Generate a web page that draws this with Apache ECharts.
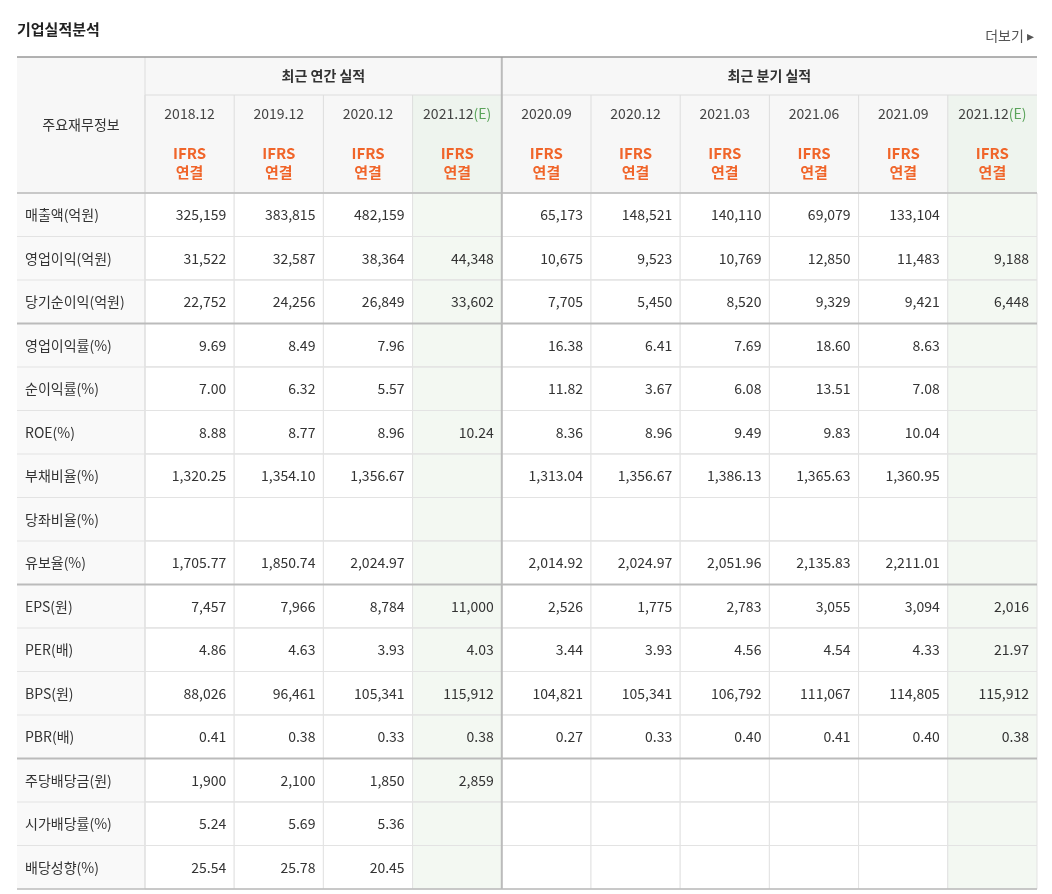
<!DOCTYPE html>
<html><head><meta charset="utf-8">
<script src="https://cdn.jsdelivr.net/npm/echarts@6/dist/echarts.min.js"></script>
<style>html,body{margin:0;background:#fff}#main{width:1052px;height:894px}</style>
</head><body><div id="main"></div>
<script>
// 열 / 행
const periods = ['2018.12','2019.12','2020.12','2021.12(E)','2020.09','2020.12','2021.03','2021.06','2021.09','2021.12(E)'];
const rowNames = ['매출액(억원)','영업이익(억원)','당기순이익(억원)','영업이익률(%)','순이익률(%)','ROE(%)','부채비율(%)','당좌비율(%)','유보율(%)','EPS(원)','PER(배)','BPS(원)','PBR(배)','주당배당금(원)','시가배당률(%)','배당성향(%)'];
const values = [
  ['325,159','383,815','482,159','','65,173','148,521','140,110','69,079','133,104',''],
  ['31,522','32,587','38,364','44,348','10,675','9,523','10,769','12,850','11,483','9,188'],
  ['22,752','24,256','26,849','33,602','7,705','5,450','8,520','9,329','9,421','6,448'],
  ['9.69','8.49','7.96','','16.38','6.41','7.69','18.60','8.63',''],
  ['7.00','6.32','5.57','','11.82','3.67','6.08','13.51','7.08',''],
  ['8.88','8.77','8.96','10.24','8.36','8.96','9.49','9.83','10.04',''],
  ['1,320.25','1,354.10','1,356.67','','1,313.04','1,356.67','1,386.13','1,365.63','1,360.95',''],
  ['','','','','','','','','',''],
  ['1,705.77','1,850.74','2,024.97','','2,014.92','2,024.97','2,051.96','2,135.83','2,211.01',''],
  ['7,457','7,966','8,784','11,000','2,526','1,775','2,783','3,055','3,094','2,016'],
  ['4.86','4.63','3.93','4.03','3.44','3.93','4.56','4.54','4.33','21.97'],
  ['88,026','96,461','105,341','115,912','104,821','105,341','106,792','111,067','114,805','115,912'],
  ['0.41','0.38','0.33','0.38','0.27','0.33','0.40','0.41','0.40','0.38'],
  ['1,900','2,100','1,850','2,859','','','','','',''],
  ['5.24','5.69','5.36','','','','','','',''],
  ['25.54','25.78','20.45','','','','','','','']
];
const groupRows = [3, 9, 13]; // 굵은 구분선 위치
const estCols = [3, 9];
const FONT = '"Noto Sans CJK KR", "Noto Sans", sans-serif';

const cells = [];
values.forEach((row, r) => row.forEach((v, c) => cells.push([c, r, v])));

const chart = echarts.init(document.getElementById('main'));
const L = 145, R = 1037, T = 193, B = 889, TOP = 57;
const cw = (R - L) / periods.length, rh = (B - T) / rowNames.length;

const g = [];
g.push({type:'text', left:17, top:22, style:{text:'기업실적분석', font:'bold 15px '+FONT, fill:'#222'}});
g.push({type:'text', right:18, top:29, style:{text:'더보기 ▸', font:'14px '+FONT, fill:'#555'}});
// 헤더 배경
g.push({type:'rect', shape:{x:17,y:TOP,width:R-17,height:T-TOP}, style:{fill:'#f7f7f7'}, z:0});
g.push({type:'rect', shape:{x:17,y:T,width:L-17,height:B-T}, style:{fill:'#f9f9f9'}, z:0});
estCols.forEach(c => g.push({type:'rect', shape:{x:L+c*cw,y:TOP+38,width:cw,height:T-TOP-38}, style:{fill:'#eef4ee'}, z:1}));
g.push({type:'text', x:81, y:125, style:{text:'주요재무정보', font:'14px '+FONT, fill:'#333', align:'center', verticalAlign:'middle'}, z:5});
g.push({type:'text', x:L+2*cw, y:76, style:{text:'최근 연간 실적', font:'bold 14px '+FONT, fill:'#333', align:'center', verticalAlign:'middle'}, z:5});
g.push({type:'text', x:L+7*cw, y:76, style:{text:'최근 분기 실적', font:'bold 14px '+FONT, fill:'#333', align:'center', verticalAlign:'middle'}, z:5});
periods.forEach((p, c) => {
  const cx = L + (c + 0.5) * cw;
  const isE = p.indexOf('(E)') > 0;
  g.push({type:'text', x:cx, y:114, style:{text: isE ? '{a|2021.12}{b|(E)}' : p, font:'14px '+FONT, fill:'#444', align:'center', verticalAlign:'middle', rich:{a:{font:'14px '+FONT, fill:'#444'}, b:{font:'14px '+FONT, fill:'#5aa35a'}}}, z:5});
  g.push({type:'text', x:cx, y:163, style:{text:'IFRS\n연결', font:'bold 15px '+FONT, fill:'#f0652a', align:'center', verticalAlign:'middle', lineHeight:19}, z:5});
  g.push({type:'line', shape:{x1:L+c*cw,y1:TOP+38,x2:L+c*cw,y2:T}, style:{stroke:'#ddd'}, z:6});
});
g.push({type:'line', shape:{x1:L,y1:TOP,x2:L,y2:B}, style:{stroke:'#ddd'}, z:6});
g.push({type:'line', shape:{x1:L,y1:TOP+38,x2:R,y2:TOP+38}, style:{stroke:'#ddd'}, z:6});
g.push({type:'line', shape:{x1:L+4*cw,y1:TOP,x2:L+4*cw,y2:B}, style:{stroke:'#bbb', lineWidth:2}, z:7});
g.push({type:'line', shape:{x1:17,y1:TOP,x2:R,y2:TOP}, style:{stroke:'#999', lineWidth:1.5}, z:7});
g.push({type:'line', shape:{x1:17,y1:T,x2:R,y2:T}, style:{stroke:'#bbb', lineWidth:1.5}, z:7});
g.push({type:'line', shape:{x1:17,y1:B,x2:R,y2:B}, style:{stroke:'#bbb', lineWidth:1.5}, z:7});
rowNames.forEach((n, r) => {
  const y = T + r * rh;
  g.push({type:'text', x:25, y:y+rh/2, style:{text:n, font:'14px '+FONT, fill:'#333', verticalAlign:'middle'}, z:5});
  g.push({type:'line', shape:{x1:17,y1:y,x2:R,y2:y}, style:{stroke: groupRows.includes(r) ? '#bbb' : '#e3e3e3', lineWidth: groupRows.includes(r) ? 2 : 1}, z:6});
});

chart.setOption({
  animation:false,
  grid:{left:L, right:1052-R, top:T, bottom:894-B},
  xAxis:{type:'category', data:periods, show:false},
  yAxis:{type:'category', data:rowNames, inverse:true, show:false},
  graphic:g,
  series:[{
    type:'custom', data:cells, z:3,
    renderItem:(params, api) => {
      const c = api.value(0), p = api.coord([c, api.value(1)]), s = api.size([1, 1]);
      return {type:'group', children:[
        {type:'rect', shape:{x:p[0]-s[0]/2, y:p[1]-s[1]/2, width:s[0], height:s[1]},
         style:{fill: estCols.includes(c) ? '#f3f8f2' : '#fff', stroke:'#e3e3e3', lineWidth:1}},
        {type:'text', x:p[0]+s[0]/2-8, y:p[1], style:{text:cells[params.dataIndex][2], font:'14px '+FONT, fill:'#333', align:'right', verticalAlign:'middle'}}
      ]};
    }
  }]
});
</script></body></html>
